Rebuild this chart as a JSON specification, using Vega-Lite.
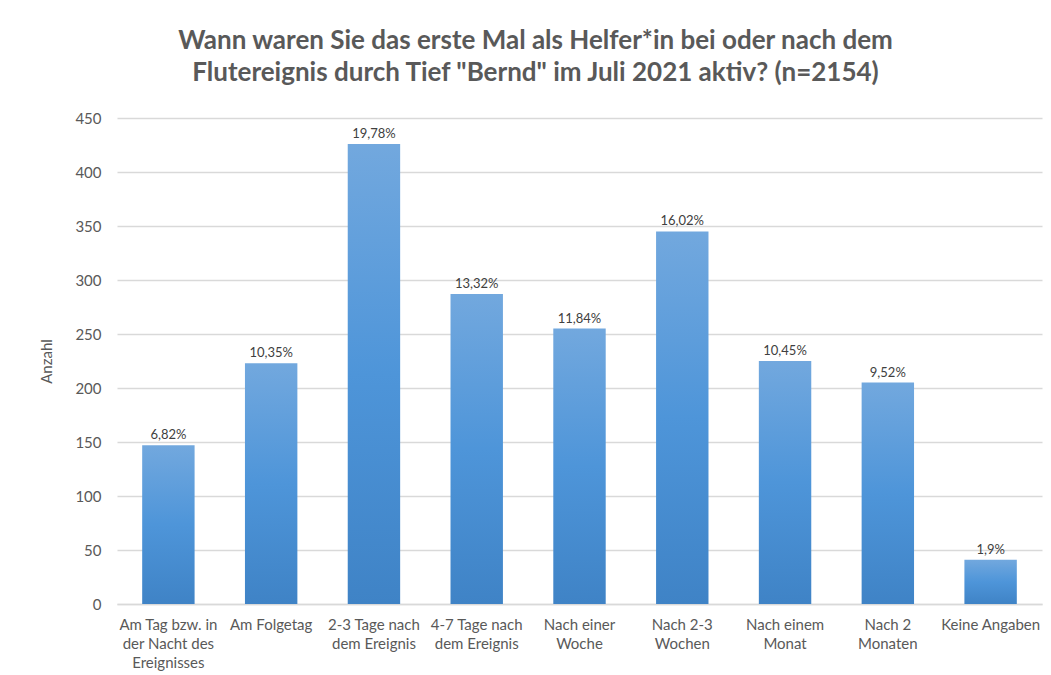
{
  "$schema": "https://vega.github.io/schema/vega-lite/v6.json",
  "width": 925,
  "height": 486,
  "autosize": {"type": "none"},
  "padding": {"left": 117, "top": 118, "right": 9, "bottom": 71},
  "background": "white",
  "title": {
    "text": ["Wann waren Sie das erste Mal als Helfer*in bei oder nach dem", "Flutereignis durch Tief \"Bernd\" im Juli 2021 aktiv? (n=2154)"],
    "font": "Lato",
    "fontSize": 26,
    "fontWeight": "bold",
    "color": "#595959",
    "lineHeight": 32,
    "offset": 25,
    "dx": -44
  },
  "data": {
    "values": [
      {"kategorie": "Am Tag bzw. in|der Nacht des|Ereignisses", "anzahl": 147, "anteil": "6,82%"},
      {"kategorie": "Am Folgetag", "anzahl": 223, "anteil": "10,35%"},
      {"kategorie": "2-3 Tage nach|dem Ereignis", "anzahl": 426, "anteil": "19,78%"},
      {"kategorie": "4-7 Tage nach|dem Ereignis", "anzahl": 287, "anteil": "13,32%"},
      {"kategorie": "Nach einer|Woche", "anzahl": 255, "anteil": "11,84%"},
      {"kategorie": "Nach 2-3|Wochen", "anzahl": 345, "anteil": "16,02%"},
      {"kategorie": "Nach einem|Monat", "anzahl": 225, "anteil": "10,45%"},
      {"kategorie": "Nach 2|Monaten", "anzahl": 205, "anteil": "9,52%"},
      {"kategorie": "Keine Angaben", "anzahl": 41, "anteil": "1,9%"}
    ]
  },
  "encoding": {
    "x": {
      "field": "kategorie",
      "type": "nominal",
      "sort": null,
      "scale": {"paddingInner": 0.49, "paddingOuter": 0.245},
      "axis": {
        "title": null,
        "labelAngle": 0,
        "labelExpr": "split(datum.label, '|')",
        "labelFont": "Lato",
        "labelFontSize": 15,
        "labelColor": "#595959",
        "labelLineHeight": 19,
        "labelPadding": 13,
        "ticks": false,
        "domain": true,
        "domainColor": "#d9d9d9",
        "domainWidth": 1.5,
        "labelLimit": 200
      }
    },
    "y": {
      "field": "anzahl",
      "type": "quantitative",
      "scale": {"domain": [0, 450]},
      "axis": {
        "title": "Anzahl",
        "titleFont": "Lato",
        "titleFontSize": 15,
        "titleFontWeight": "normal",
        "titleColor": "#595959",
        "titlePadding": 20,
        "values": [0, 50, 100, 150, 200, 250, 300, 350, 400, 450],
        "labelFont": "Lato",
        "labelFontSize": 15,
        "labelColor": "#595959",
        "labelPadding": 16,
        "ticks": false,
        "domain": false,
        "grid": true,
        "gridColor": "#d9d9d9",
        "gridWidth": 1.5
      }
    }
  },
  "layer": [
    {
      "mark": {
        "type": "bar",
        "color": {
          "gradient": "linear",
          "x1": 0, "y1": 0, "x2": 0, "y2": 1,
          "stops": [
            {"offset": 0, "color": "#72a8de"},
            {"offset": 0.5, "color": "#4e95d9"},
            {"offset": 1, "color": "#3f83c6"}
          ]
        }
      }
    },
    {
      "mark": {
        "type": "text",
        "baseline": "bottom",
        "dy": -3,
        "font": "Lato",
        "fontSize": 13,
        "color": "#404040"
      },
      "encoding": {"text": {"field": "anteil"}}
    }
  ],
  "config": {"view": {"stroke": null}}
}
